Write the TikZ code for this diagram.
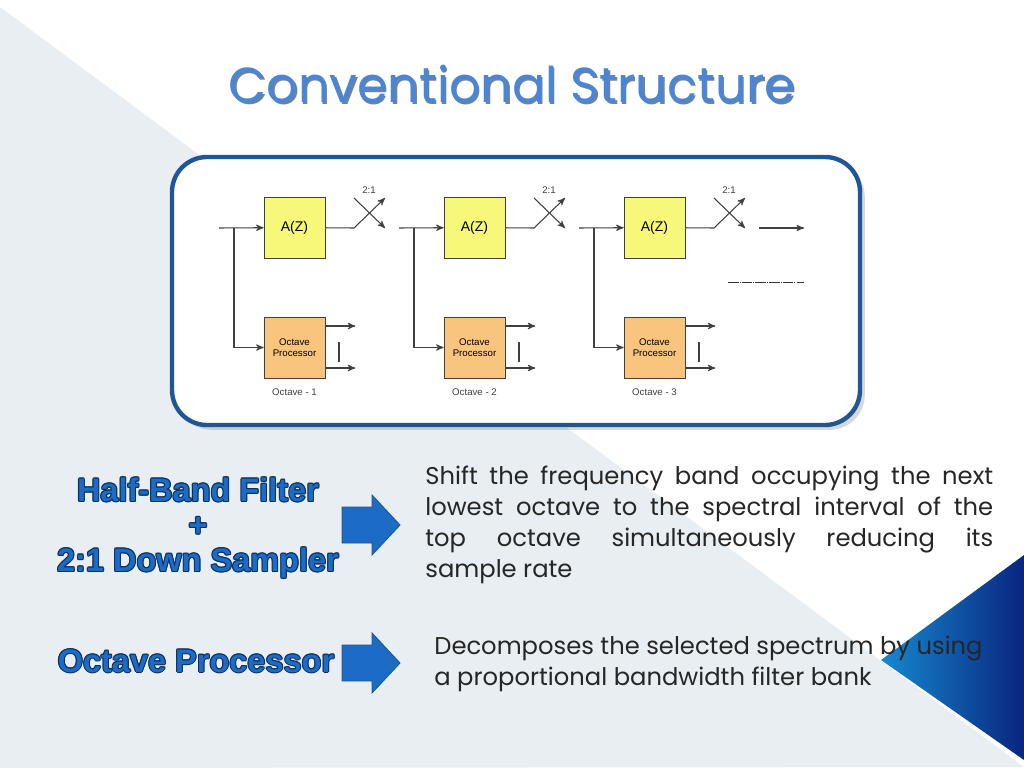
\documentclass[tikz,border=0pt]{standalone}
\usepackage{fontspec}
\setmainfont{Poppins}
\newfontfamily\arialfam{Liberation Sans}
\usetikzlibrary{arrows,shadows}
\definecolor{slideblue}{HTML}{1C6BC4}
\definecolor{darkblue}{HTML}{0B2F5E}
\definecolor{titleblue}{HTML}{4A86D8}
\definecolor{bggray}{HTML}{E8EEF2}
\definecolor{frameblue}{HTML}{1E5696}
\definecolor{filtyellow}{HTML}{F7F77A}
\definecolor{procorange}{HTML}{F8C47E}
\newcommand{\outlined}[2]{%
  \foreach \dx/\dy in {-1/0,1/0,0/-1,0/1,-0.7/-0.7,0.7/0.7,-0.7/0.7,0.7/-0.7}{%
    \node[lefttext,text=darkblue] at ([xshift=\dx*0.6pt,yshift=\dy*0.6pt]#1) {#2};}
  \node[lefttext] at (#1) {#2};}
\tikzset{
  lefttext/.style={font=\arialfam\bfseries\fontsize{18.5}{20}\selectfont,text=slideblue,align=center},
  bigarrow/.style={draw=frameblue,fill=slideblue,line width=0.5pt},
  filt/.style={draw=black!75,fill=filtyellow,minimum width=1.22cm,minimum height=1.22cm,
    font=\arialfam\fontsize{8}{9}\selectfont},
  proc/.style={draw=black!75,fill=procorange,minimum width=1.22cm,minimum height=1.22cm,
    font=\arialfam\fontsize{5.5}{6.5}\selectfont,align=center},
  small/.style={font=\arialfam\fontsize{5.5}{6.5}\selectfont,text=black!75},
  sig/.style={draw=black!75,line width=0.6pt},
}
\begin{document}
\begin{tikzpicture}[x=0.02cm,y=-0.02cm,>=stealth']
\useasboundingbox (0,0) rectangle (1024,768);
%%%BACKGROUND
\fill[white] (0,0) rectangle (1024,768);
\fill[bggray] (0,7) -- (1024,767) -- (0,768) -- cycle;
\shade[left color=slideblue!80!cyan,right color=darkblue!80!blue] (881,660) -- (1024,555) -- (1024,760) -- cycle;
%%%TITLE
\node[font=\fontsize{28}{32}\selectfont,text=darkblue!60] at (513.5,85.5) {Conventional Structure};
\node[font=\fontsize{28}{32}\selectfont,text=titleblue] (title) at (512,84) {Conventional Structure};
%%%FRAME
\draw[frameblue,line width=2.5pt,rounded corners=0.7cm,fill=white,drop shadow={opacity=0.3}]
  (172,157) rectangle (860,425);
%%%STAGES
\foreach \i in {1,2,3}{
  \pgfmathsetmacro{\ox}{180*(\i-1)}
  \node[filt] (filt\i) at (294.5+\ox,227.5) {A(Z)};
  \node[proc] (proc\i) at (294.5+\ox,347.5) {Octave\\Processor};
  \node[small] (oct\i) at (294.5+\ox,392) {Octave - \i};
  \node[small] (ratio\i) at (369+\ox,190) {2:1};
  \coordinate (in\i) at (219+\ox,228);
  \coordinate (br\i) at (234+\ox,228);
  \coordinate (sw\i) at (354+\ox,228);
  \coordinate (up\i) at (385+\ox,198);
  \coordinate (xs\i) at (354+\ox,198);
  \coordinate (dn\i) at (385+\ox,228);
  \draw[sig,->] (in\i) -- (filt\i);
  \draw[sig,->] (br\i) |- (proc\i);
  \draw[sig] (filt\i) -- (sw\i);
  \draw[sig,->] (sw\i) -- (up\i);
  \draw[sig,->] (xs\i) -- (dn\i);
  \draw[sig,->] (proc\i.east|-0,326) -- ++(30,0);
  \draw[sig,->] (proc\i.east|-0,368) -- ++(30,0);
  \draw[sig] (339+\ox,342) -- (339+\ox,362);
}
\coordinate (outa) at (759,228);
\coordinate (outb) at (804,228);
\draw[sig,->] (outa) -- (outb);
\coordinate (dota) at (728,282);
\coordinate (dotb) at (804,282);
\draw[black!80,line width=0.5pt,dash pattern=on 6pt off 0.6pt on 0.6pt off 0.6pt] (dota) -- (dotb);
%%%LEFT LABELS
\outlined{198,528}{Half-Band Filter\\+\\2:1 Down Sampler}
\outlined{196,661}{Octave Processor}
%%%ARROWS
\foreach \y in {525,663}
  \draw[bigarrow] (342,\y-18) -- (372,\y-18) -- (372,\y-30) -- (400,\y)
    -- (372,\y+30) -- (372,\y+18) -- (342,\y+18) -- cycle;
%%%TEXT
\node[anchor=north west,text width=11.36cm,align=justify,inner sep=0pt,
  font=\fontsize{13.8}{17.6}\selectfont,text=black!85] (desc1) at (425,466)
  {Shift the frequency band occupying the next\linebreak lowest octave to the spectral interval of the\linebreak top octave simultaneously reducing its\linebreak sample rate};
\node[anchor=north west,align=left,inner sep=0pt,
  font=\fontsize{13.8}{17.6}\selectfont,text=black!85] (desc2) at (434,636)
  {Decomposes the selected spectrum by using\\a proportional bandwidth filter bank};
\end{tikzpicture}
\end{document}
